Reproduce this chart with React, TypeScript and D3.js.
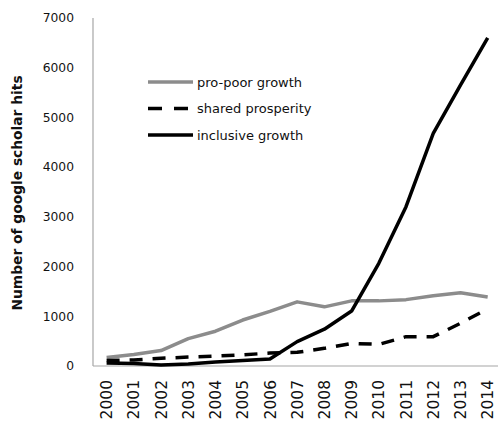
import React, { useEffect, useRef } from 'react';
import * as d3 from 'd3';

const years = ['2000', '2001', '2002', '2003', '2004', '2005', '2006', '2007', '2008', '2009', '2010', '2011', '2012', '2013', '2014'];
const proPoor = [170, 230, 310, 550, 700, 925, 1100, 1290, 1190, 1310, 1310, 1335, 1415, 1475, 1390];
const shared = [110, 120, 155, 180, 200, 225, 260, 275, 355, 455, 435, 590, 590, 860, 1150];
const inclusive = [60, 50, 20, 40, 80, 110, 140, 490, 740, 1105, 2065, 3205, 4680, 5650, 6600];
const yTicks = [0, 1000, 2000, 3000, 4000, 5000, 6000, 7000];

const seriesList = [
  { name: 'pro-poor growth', values: proPoor, color: '#8c8c8c', width: 3.5, dash: null },
  { name: 'shared prosperity', values: shared, color: '#000000', width: 3.5, dash: '13,10' },
  { name: 'inclusive growth', values: inclusive, color: '#000000', width: 3.5, dash: null },
];

const App: React.FC = () => {
  const svgRef = useRef<SVGSVGElement>(null);
  const width = 498;
  const height = 425;

  useEffect(() => {
    if (!svgRef.current) return;
    const svg = d3.select(svgRef.current);
    svg.selectAll('*').remove();

    const left = 93;
    const top = 18;
    const bottom = 366;
    const font = '"DejaVu Sans", Verdana, sans-serif';

    const x = d3.scaleBand<string>().domain(years).range([left, 501.3]).padding(0);
    const cx = (d: string) => (x(d) as number) + x.bandwidth() / 2;
    const y = d3.scaleLinear().domain([0, 7000]).range([bottom, top]);

    // axes lines
    svg.append('line')
      .attr('x1', left).attr('x2', left)
      .attr('y1', y(7000)).attr('y2', bottom)
      .attr('stroke', '#a6a6a6').attr('stroke-width', 1.2);
    svg.append('line')
      .attr('x1', left).attr('x2', 498)
      .attr('y1', bottom).attr('y2', bottom)
      .attr('stroke', '#a6a6a6').attr('stroke-width', 1.2);

    // y tick labels
    svg.append('g').selectAll('text')
      .data(yTicks)
      .join('text')
      .attr('x', 74)
      .attr('y', d => y(d))
      .attr('dy', '0.35em')
      .attr('text-anchor', 'end')
      .attr('font-family', font)
      .attr('font-size', 12.3)
      .attr('fill', '#111')
      .text(d => String(d));

    // x tick labels
    svg.append('g').selectAll('text')
      .data(years)
      .join('text')
      .attr('transform', d => `translate(${cx(d)},380) rotate(-90)`)
      .attr('dy', '0.36em')
      .attr('text-anchor', 'end')
      .attr('font-family', font)
      .attr('font-size', 15.5)
      .attr('fill', '#111')
      .text(d => d);

    // y title
    svg.append('text')
      .attr('transform', `translate(17.5,193) rotate(-90)`)
      .attr('dy', '0.35em')
      .attr('text-anchor', 'middle')
      .attr('font-family', font)
      .attr('font-weight', 'bold')
      .attr('font-size', 13.8)
      .attr('fill', '#111')
      .text('Number of google scholar hits');

    // series
    const line = d3.line<number>()
      .x((_, i) => cx(years[i]))
      .y(d => y(d));

    seriesList.forEach(s => {
      const p = svg.append('path')
        .datum(s.values)
        .attr('fill', 'none')
        .attr('stroke', s.color)
        .attr('stroke-width', s.width)
        .attr('stroke-linejoin', 'round')
        .attr('d', line);
      if (s.dash) p.attr('stroke-dasharray', s.dash);
    });

    // legend
    const legendY = [82, 108.5, 135];
    seriesList.forEach((s, i) => {
      const ln = svg.append('line')
        .attr('x1', 148).attr('x2', 193)
        .attr('y1', legendY[i]).attr('y2', legendY[i])
        .attr('stroke', s.color)
        .attr('stroke-width', s.width);
      if (s.dash) ln.attr('stroke-dasharray', '14,12');
      svg.append('text')
        .attr('x', 197)
        .attr('y', legendY[i])
        .attr('dy', '0.35em')
        .attr('font-family', font)
        .attr('font-size', 13)
        .attr('fill', '#111')
        .text(s.name);
    });
  }, []);

  return (
    <svg
      ref={svgRef}
      width={width}
      height={height}
      style={{ position: 'absolute', left: 0, top: 0, background: '#fff' }}
    />
  );
};

export default App;
